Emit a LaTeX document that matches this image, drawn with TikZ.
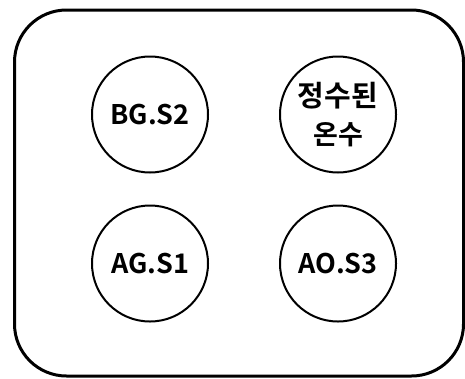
\documentclass[tikz,border=0pt]{standalone}
\usepackage{fontspec}
\setmainfont{Noto Sans CJK KR}[BoldFont={* Bold}]
\newfontfamily\kr{Noto Sans CJK KR Bold}
\begin{document}
\begin{tikzpicture}[x=1pt,y=-1pt,
  circ/.style={draw, line width=2pt, circle, minimum size=116pt, inner sep=0pt, align=center, font=\kr\fontsize{27}{38}\selectfont},
  frame/.style={draw, line width=3pt, rounded corners=52pt}]
\useasboundingbox (0,0) rectangle (465,378);
\clip (0,0) rectangle (465,378);
\draw[frame] (14.5,10) rectangle (463.5,376);
\node[circ] (bg) at (150,114.5) {BG.S2};
\node[circ] (ws) at (338,114.5) {\fontsize{29}{38}\selectfont 정수된\\[0pt]온수};
\node[circ] (ag) at (150,263.5) {AG.S1};
\node[circ] (ao) at (338,263.5) {AO.S3};
\end{tikzpicture}
\end{document}
